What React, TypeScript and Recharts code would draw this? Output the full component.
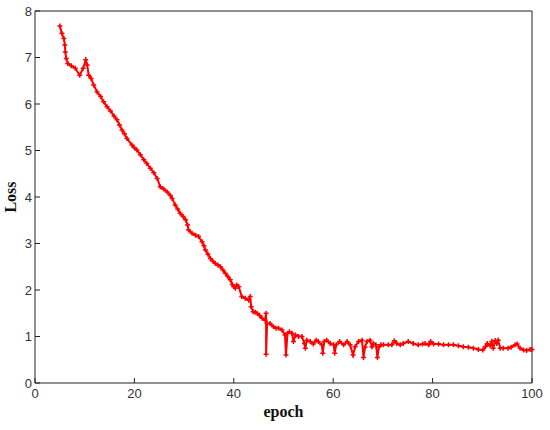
import { LineChart, Line, XAxis, YAxis } from 'recharts';

// epoch / loss pairs
const epochs = [
  5.0, 5.4, 5.8, 6.0, 6.1, 6.3, 6.6, 7.3, 8.1, 9.0, 9.7, 10.2, 10.5, 10.8, 11.3, 11.8, 12.5, 13.2, 13.8, 14.5,
  15.2, 15.9, 16.5, 17.0, 17.5, 18.0, 18.5, 19.5, 20.0, 20.5, 21.2, 21.9, 22.5, 23.2, 23.9, 24.6, 25.2, 25.9, 26.6, 27.2,
  27.6, 28.2, 28.7, 29.2, 29.8, 30.3, 30.7, 30.9, 31.6, 32.3, 32.9, 33.6, 34.0, 34.3, 34.8, 35.3, 35.8, 36.3, 36.8, 37.3,
  37.8, 38.3, 38.8, 39.3, 39.7, 40.0, 40.3, 40.6, 41.0, 41.6, 42.3, 43.0, 43.3, 43.5, 43.9, 44.3, 44.7, 45.2, 45.7, 46.3,
  46.5, 46.5, 46.7, 47.3, 48.0, 48.5, 49.0, 49.7, 50.3, 50.5, 50.8, 51.2, 51.7, 52.0, 52.4, 53.0, 53.7, 54.2, 54.4, 54.7,
  55.4, 56.0, 56.6, 57.0, 57.7, 57.9, 58.2, 58.7, 59.4, 60.1, 60.3, 60.6, 61.3, 62.1, 62.8, 63.4, 64.0, 64.4, 65.1, 65.8,
  66.1, 66.4, 66.8, 67.4, 67.8, 68.1, 68.6, 68.9, 69.2, 69.6, 70.1, 71.1, 71.8, 72.3, 72.8, 73.5, 74.1, 75.1, 76.1, 77.1,
  78.0, 78.5, 79.2, 79.6, 80.2, 81.2, 82.2, 83.2, 84.2, 85.2, 86.2, 87.2, 88.2, 89.2, 90.1, 90.6, 91.0, 91.6, 91.9, 92.2,
  92.6, 92.9, 93.2, 93.6, 94.2, 95.2, 95.8, 96.6, 97.0, 97.6, 98.3, 98.9, 99.6, 100,
];

const losses = [
  7.68, 7.52, 7.41, 7.27, 7.12, 6.98, 6.87, 6.82, 6.77, 6.62, 6.77, 6.95, 6.84, 6.62, 6.55, 6.41, 6.26, 6.16, 6.05, 5.94,
  5.85, 5.74, 5.66, 5.55, 5.44, 5.36, 5.26, 5.12, 5.06, 5.01, 4.91, 4.8, 4.72, 4.62, 4.52, 4.4, 4.22, 4.17, 4.11, 4.04,
  3.97, 3.83, 3.74, 3.65, 3.58, 3.51, 3.4, 3.29, 3.22, 3.18, 3.15, 3.04, 2.95, 2.86, 2.77, 2.68, 2.62, 2.57, 2.54, 2.5,
  2.43, 2.36, 2.29, 2.22, 2.12, 2.07, 2.04, 2.11, 2.07, 1.86, 1.82, 1.78, 1.86, 1.64, 1.53, 1.52, 1.5, 1.45, 1.39, 1.35,
  1.5, 0.62, 1.28, 1.28, 1.21, 1.18, 1.18, 1.14, 1.03, 0.6, 1.07, 1.1, 1.07, 0.89, 1.03, 1.0, 1.0, 0.85, 0.75, 0.92,
  0.89, 0.84, 0.92, 0.89, 0.82, 0.64, 0.89, 0.92, 0.85, 0.82, 0.64, 0.82, 0.89, 0.82, 0.89, 0.82, 0.6, 0.78, 0.89, 0.92,
  0.55, 0.77, 0.89, 0.92, 0.78, 0.85, 0.82, 0.55, 0.78, 0.82, 0.82, 0.82, 0.82, 0.91, 0.85, 0.82, 0.85, 0.89, 0.85, 0.82,
  0.84, 0.85, 0.82, 0.89, 0.84, 0.84, 0.82, 0.82, 0.82, 0.8, 0.78, 0.77, 0.75, 0.72, 0.71, 0.78, 0.85, 0.8, 0.89, 0.75,
  0.91, 0.85, 0.92, 0.75, 0.75, 0.75, 0.77, 0.82, 0.84, 0.75, 0.71, 0.7, 0.72, 0.72,
];

const xTicks = [0, 20, 40, 60, 80, 100];
const yTicks = [0, 1, 2, 3, 4, 5, 6, 7, 8];

const data = epochs.map((epoch, i) => ({ epoch, loss: losses[i] }));

const AXIS = '#222';
const tickStyle = { fontFamily: 'Liberation Sans', fontSize: 13, fill: '#333' };
const labelStyle = { fontFamily: 'Liberation Serif', fontSize: 16, fontWeight: 'bold', fill: '#111' };

// little "+" marker like the matlab one
function PlusDot(props: any) {
  const { cx, cy } = props;
  if (cx == null || cy == null) return null;
  return (
    <path
      d={`M${cx - 2.5},${cy}H${cx + 2.5}M${cx},${cy - 2.5}V${cy + 2.5}`}
      stroke="#ff0000"
      strokeWidth={1.5}
      fill="none"
    />
  );
}

export default function App() {
  return (
    <div style={{ position: 'absolute', left: 0, top: 0, background: '#fff' }}>
      <LineChart width={550} height={430} data={data} margin={{ top: 10, right: 17, bottom: 0, left: 0 }}>
        <XAxis
          xAxisId="b"
          dataKey="epoch"
          type="number"
          domain={[0, 100]}
          ticks={xTicks}
          height={47}
          stroke={AXIS}
          tickSize={-5}
          tickMargin={11}
          tick={tickStyle}
          label={{ value: 'epoch', position: 'insideBottom', offset: 13, style: labelStyle }}
        />
        <XAxis
          xAxisId="t"
          dataKey="epoch"
          type="number"
          orientation="top"
          domain={[0, 100]}
          ticks={xTicks}
          height={1}
          stroke={AXIS}
          tickSize={-5}
          tick={false}
        />
        <YAxis
          yAxisId="l"
          type="number"
          domain={[0, 8]}
          ticks={yTicks}
          width={35}
          stroke={AXIS}
          tickSize={-5}
          tickMargin={8}
          tick={tickStyle}
          label={{ value: 'Loss', angle: -90, position: 'insideLeft', offset: 10, style: { ...labelStyle, textAnchor: 'middle' } }}
        />
        <YAxis
          yAxisId="r"
          type="number"
          orientation="right"
          domain={[0, 8]}
          ticks={yTicks}
          width={1}
          stroke={AXIS}
          tickSize={-5}
          tick={false}
        />
        <Line
          xAxisId="b"
          yAxisId="l"
          type="linear"
          dataKey="loss"
          stroke="#ff0000"
          strokeWidth={2}
          dot={PlusDot}
          activeDot={false}
          isAnimationActive={false}
        />
      </LineChart>
    </div>
  );
}
